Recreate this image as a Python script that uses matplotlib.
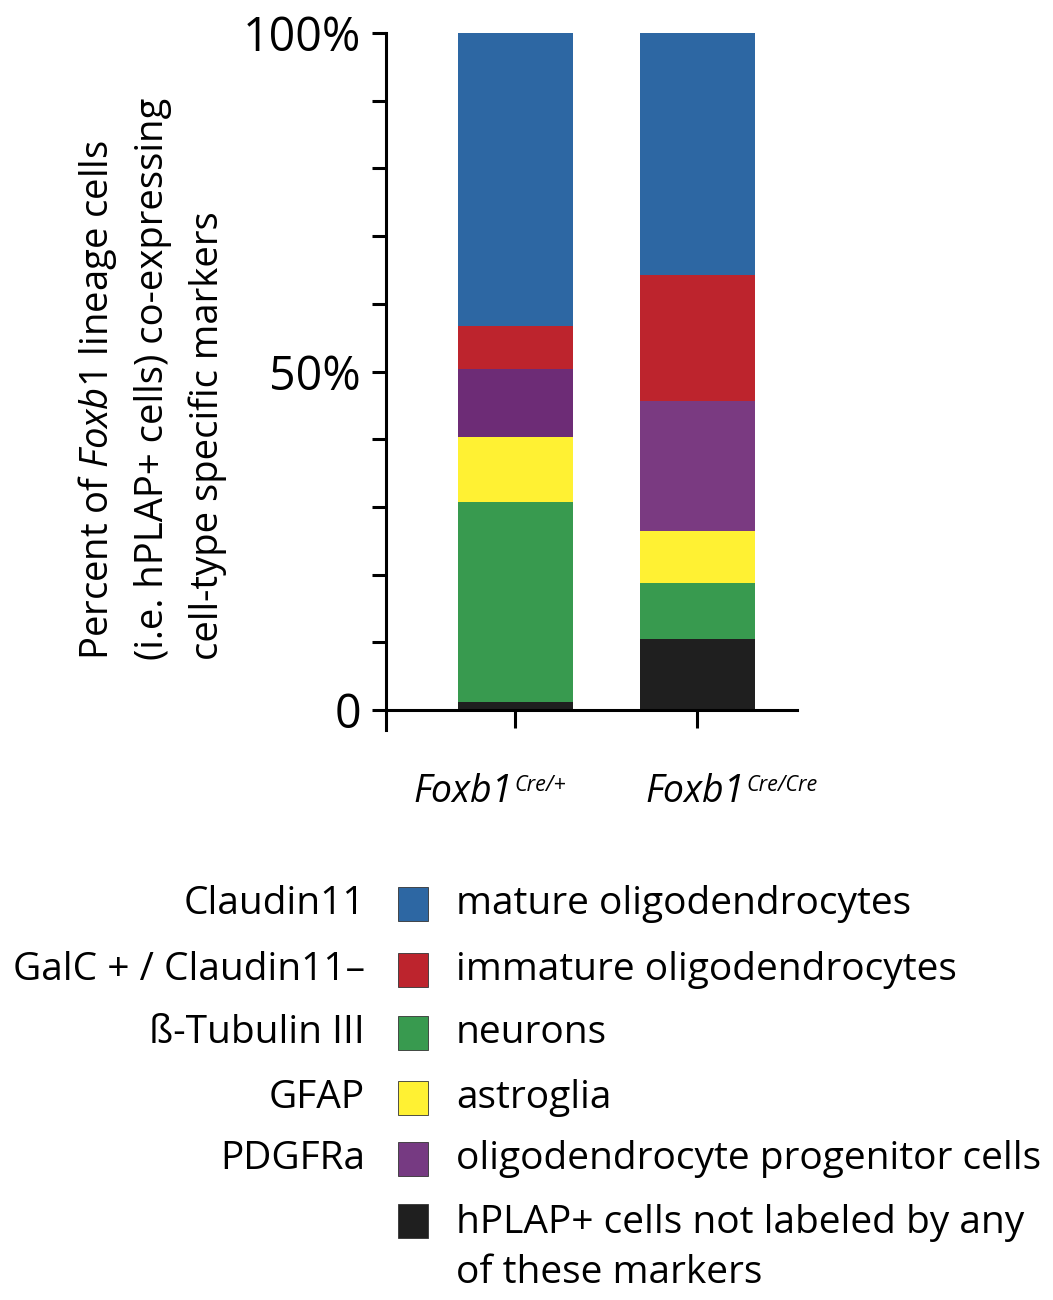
import matplotlib
matplotlib.use("Agg")
import matplotlib.pyplot as plt
from matplotlib.patches import Rectangle

plt.rcParams['font.family'] = ['Open Sans', 'DejaVu Sans']
plt.rcParams['mathtext.fontset'] = 'custom'
plt.rcParams['mathtext.rm'] = 'Open Sans'
plt.rcParams['mathtext.it'] = 'Open Sans:italic'

# data (percent of cells), stacked bottom -> top
genotypes = ["Foxb1", "Foxb1"]
genotype_sup = ["Cre/+", "Cre/Cre"]
unlabeled = [1.2, 10.5]
neurons = [29.5, 8.3]
astroglia = [9.7, 7.7]
opc = [9.9, 19.1]
immature = [6.4, 18.6]
mature = [43.3, 35.8]

stack = [unlabeled, neurons, astroglia, opc, immature, mature]
stack_colors = ["#1f1f1f", "#389a4f", "#fff133", ["#6d2c76", "#7a3a81"], "#bd242d", "#2d67a3"]

# legend rows (top -> bottom)
leg_markers = ["Claudin11", "GalC + / Claudin11\u2013", "\u00df-Tubulin III", "GFAP", "PDGFRa", ""]
leg_cells = ["mature oligodendrocytes", "immature oligodendrocytes", "neurons",
             "astroglia", "oligodendrocyte progenitor cells",
             "hPLAP+ cells not labeled by any\nof these markers"]
leg_colors = ["#2d67a3", "#bd242d", "#389a4f", "#fff133", "#763a82", "#1f1f1f"]

W, H = 1053, 1300
fig = plt.figure(figsize=(W / 100, H / 100), dpi=100)
ax = fig.add_axes([386 / W, 1 - 730 / H, (797 - 386) / W, (730 - 33) / H])

x = list(range(len(genotypes)))
bottom = [0.0] * len(x)
for vals, col in zip(stack, stack_colors):
    ax.bar(x, vals, width=0.632, bottom=bottom, color=col, linewidth=0)
    bottom = [b + v for b, v in zip(bottom, vals)]

ax.set_xlim(-0.7115, 1.547)
ax.set_ylim(-2.95, 100)
for s in ["top", "right"]:
    ax.spines[s].set_visible(False)
ax.spines["bottom"].set_position(("data", 0))
ax.spines["left"].set_bounds(-2.95, 100)
for s in ["left", "bottom"]:
    ax.spines[s].set_linewidth(2.2)
ax.set_yticks(range(0, 101, 10))
ax.set_yticklabels(["0" if t == 0 else ("50%" if t == 50 else ("100%" if t == 100 else ""))
                    for t in range(0, 101, 10)], fontsize=33.5)
ax.tick_params(axis="y", length=10, width=2.2, pad=8)
ax.set_xticks(x)
ax.set_xticklabels([])
ax.tick_params(axis="x", length=13, width=2.2)

# genotype labels: italic name + small italic superscript
label_left = [413, 645]
for g, sup, lx in zip(genotypes, genotype_sup, label_left):
    main = fig.text(lx / W, 1 - 802 / H, g, ha="left", va="baseline",
                    fontsize=27, fontstyle="italic")
    ax.annotate(sup, xy=(1, 1), xycoords=main, xytext=(1.5, -1.5), textcoords="offset points",
                ha="left", va="top", fontsize=15.5, fontstyle="italic")

# y label, three lines (left aligned, reading upwards)
ylab = [r"Percent of $\mathit{Foxb1}$ lineage cells",
        "(i.e. hPLAP+ cells) co-expressing",
        "cell-type specific markers"]
for j, t in enumerate(ylab):
    fig.text((98 + 55 * j) / W, 1 - 660 / H, t, rotation=90, ha="center", va="bottom",
             fontsize=27.5)

# legend
row_y = [904, 970, 1033, 1098, 1159, 1221]
for yy, mk, cell, col in zip(row_y, leg_markers, leg_cells, leg_colors):
    fy = 1 - yy / H
    fig.text(365 / W, fy, mk, ha="right", va="center", fontsize=28)
    fig.patches.append(Rectangle((398 / W, fy - 17 / H), 30 / W, 34 / H, transform=fig.transFigure,
                                 facecolor=col, edgecolor="#333333", linewidth=0.6))
    if "\n" in cell:
        fig.text(456 / W, fy + 17 / H, cell, ha="left", va="top", fontsize=28, linespacing=1.42)
    else:
        fig.text(456 / W, fy, cell, ha="left", va="center", fontsize=28)

fig.savefig("out.png", dpi=100)
